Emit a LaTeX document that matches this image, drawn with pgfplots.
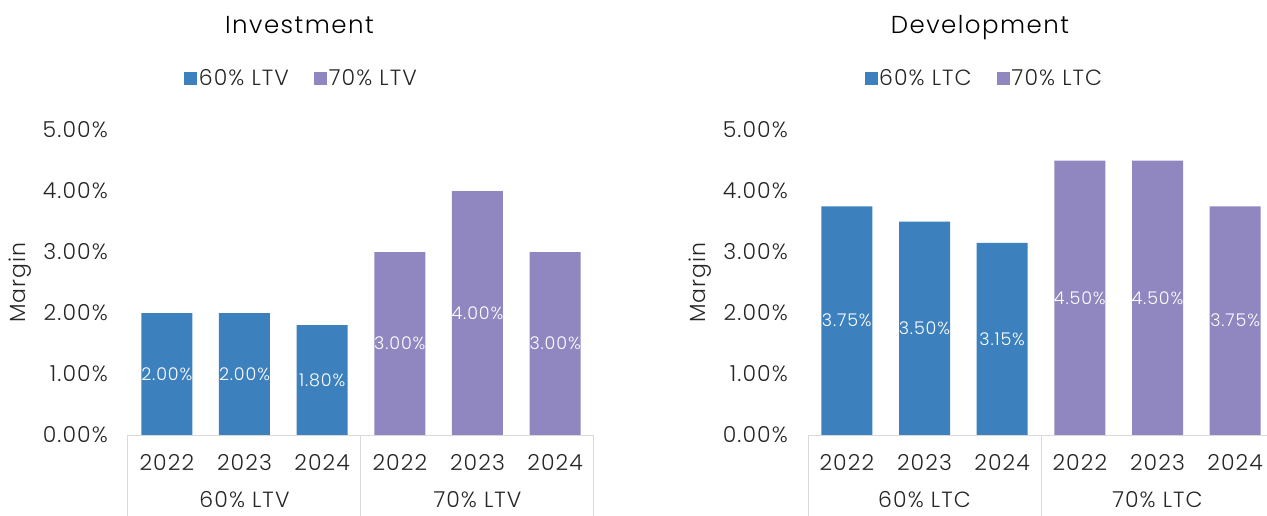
\documentclass[border=0pt]{standalone}
\usepackage{pgfplots}
\pgfplotsset{compat=1.18}
\usepackage{fontspec}
\setmainfont{Poppins Light}[LetterSpace=5]
\newfontfamily\titlefont{Poppins Light}[LetterSpace=6]
\definecolor{cblue}{HTML}{3C81BE}
\definecolor{cpurple}{HTML}{9087C1}
\definecolor{axgray}{HTML}{D9D9D9}
\definecolor{txt}{HTML}{262626}
\newcommand{\fA}{\fontsize{22}{26}\selectfont}
\newcommand{\fT}{\titlefont\fontsize{24.5}{29}\selectfont}
\newcommand{\fD}{\fontsize{17.5}{20}\selectfont}
\pgfplotsset{
  panel/.style={
    scale only axis, width=466pt, height=305pt, anchor=south west,
    xmin=-0.5, xmax=5.5, ymin=0, ymax=5, clip=false,
    axis line style={draw=none}, major tick length=0pt, tick style={draw=none},
    xtick={0,...,5}, xticklabels={2022,2023,2024,2022,2023,2024},
    ytick={0,...,5}, yticklabels={0.00\%,1.00\%,2.00\%,3.00\%,4.00\%,5.00\%},
    ticklabel style={font=\fA, text=txt, inner sep=0pt},
    xticklabel style={anchor=base, yshift=-35.5pt},
    yticklabel style={anchor=east, xshift=-20pt},
    ylabel={Margin},
    ylabel style={font=\fA, text=txt, at={(rel axis cs:-0.232,0.5)}, anchor=center, rotate=0},
    legend style={draw=none, fill=none, anchor=center, legend columns=2, font=\fA, text=txt,
      /tikz/every even column/.append style={column sep=24pt},
      nodes={inner sep=1.5pt}},
    legend image code/.code={\fill[##1] (0pt,-6.5pt) rectangle (13pt,6.5pt);},
  },
  dlab/.style={draw=none, mark=none, forget plot, nodes near coords, point meta=explicit symbolic,
    nodes near coords align=center,
    every node near coord/.style={font=\fD, text=white, inner sep=0pt, anchor=center}},
}
\begin{document}
\begin{tikzpicture}
\useasboundingbox (0,0) rectangle (1267pt,515pt);
% ---------- Investment
\begin{axis}[panel, at={(128pt,80pt)},
  legend style={at={(rel axis cs:0.372,1.17)}}]
\addplot[ybar, bar width=51pt, bar shift=0pt, fill=cblue, draw=none]
  coordinates {(0,2.00) (1,2.00) (2,1.80)};
\addlegendentry{60\% LTV}
\addplot[ybar, bar width=51pt, bar shift=0pt, fill=cpurple, draw=none]
  coordinates {(3,3.00) (4,4.00) (5,3.00)};
\addlegendentry{70\% LTV}
\addplot[dlab] coordinates {(0,1.00)[2.00\%] (1,1.00)[2.00\%] (2,0.90)[1.80\%]
  (3,1.50)[3.00\%] (4,2.00)[4.00\%] (5,1.50)[3.00\%]};
\draw[axgray, line width=1pt] (rel axis cs:0,0) -- (rel axis cs:1,0);
\draw[axgray, line width=1pt] (axis cs:-0.5,0) -- ++(0pt,-90pt);
\draw[axgray, line width=1pt] (axis cs:2.5,0) -- ++(0pt,-90pt);
\draw[axgray, line width=1pt] (axis cs:5.5,0) -- ++(0pt,-90pt);
\node[font=\fA, text=txt, anchor=base] at ([yshift=-72.5pt]axis cs:1,0) {60\% LTV};
\node[font=\fA, text=txt, anchor=base] at ([yshift=-72.5pt]axis cs:4,0) {70\% LTV};
\node[font=\fT, text=black, anchor=base] at (rel axis cs:0.368,1.318) {Investment};
\end{axis}
% ---------- Development
\begin{axis}[panel, at={(808pt,80pt)},
  legend style={at={(rel axis cs:0.378,1.17)}}]
\addplot[ybar, bar width=51pt, bar shift=0pt, fill=cblue, draw=none]
  coordinates {(0,3.75) (1,3.50) (2,3.15)};
\addlegendentry{60\% LTC}
\addplot[ybar, bar width=51pt, bar shift=0pt, fill=cpurple, draw=none]
  coordinates {(3,4.50) (4,4.50) (5,3.75)};
\addlegendentry{70\% LTC}
\addplot[dlab] coordinates {(0,1.875)[3.75\%] (1,1.75)[3.50\%] (2,1.575)[3.15\%]
  (3,2.25)[4.50\%] (4,2.25)[4.50\%] (5,1.875)[3.75\%]};
\draw[axgray, line width=1pt] (rel axis cs:0,0) -- (rel axis cs:1,0);
\draw[axgray, line width=1pt] (axis cs:-0.5,0) -- ++(0pt,-90pt);
\draw[axgray, line width=1pt] (axis cs:2.5,0) -- ++(0pt,-90pt);
\draw[axgray, line width=1pt] (axis cs:5.5,0) -- ++(0pt,-90pt);
\node[font=\fA, text=txt, anchor=base] at ([yshift=-72.5pt]axis cs:1,0) {60\% LTC};
\node[font=\fA, text=txt, anchor=base] at ([yshift=-72.5pt]axis cs:4,0) {70\% LTC};
\node[font=\fT, text=black, anchor=base] at (rel axis cs:0.369,1.318) {Development};
\end{axis}
\end{tikzpicture}
\end{document}
